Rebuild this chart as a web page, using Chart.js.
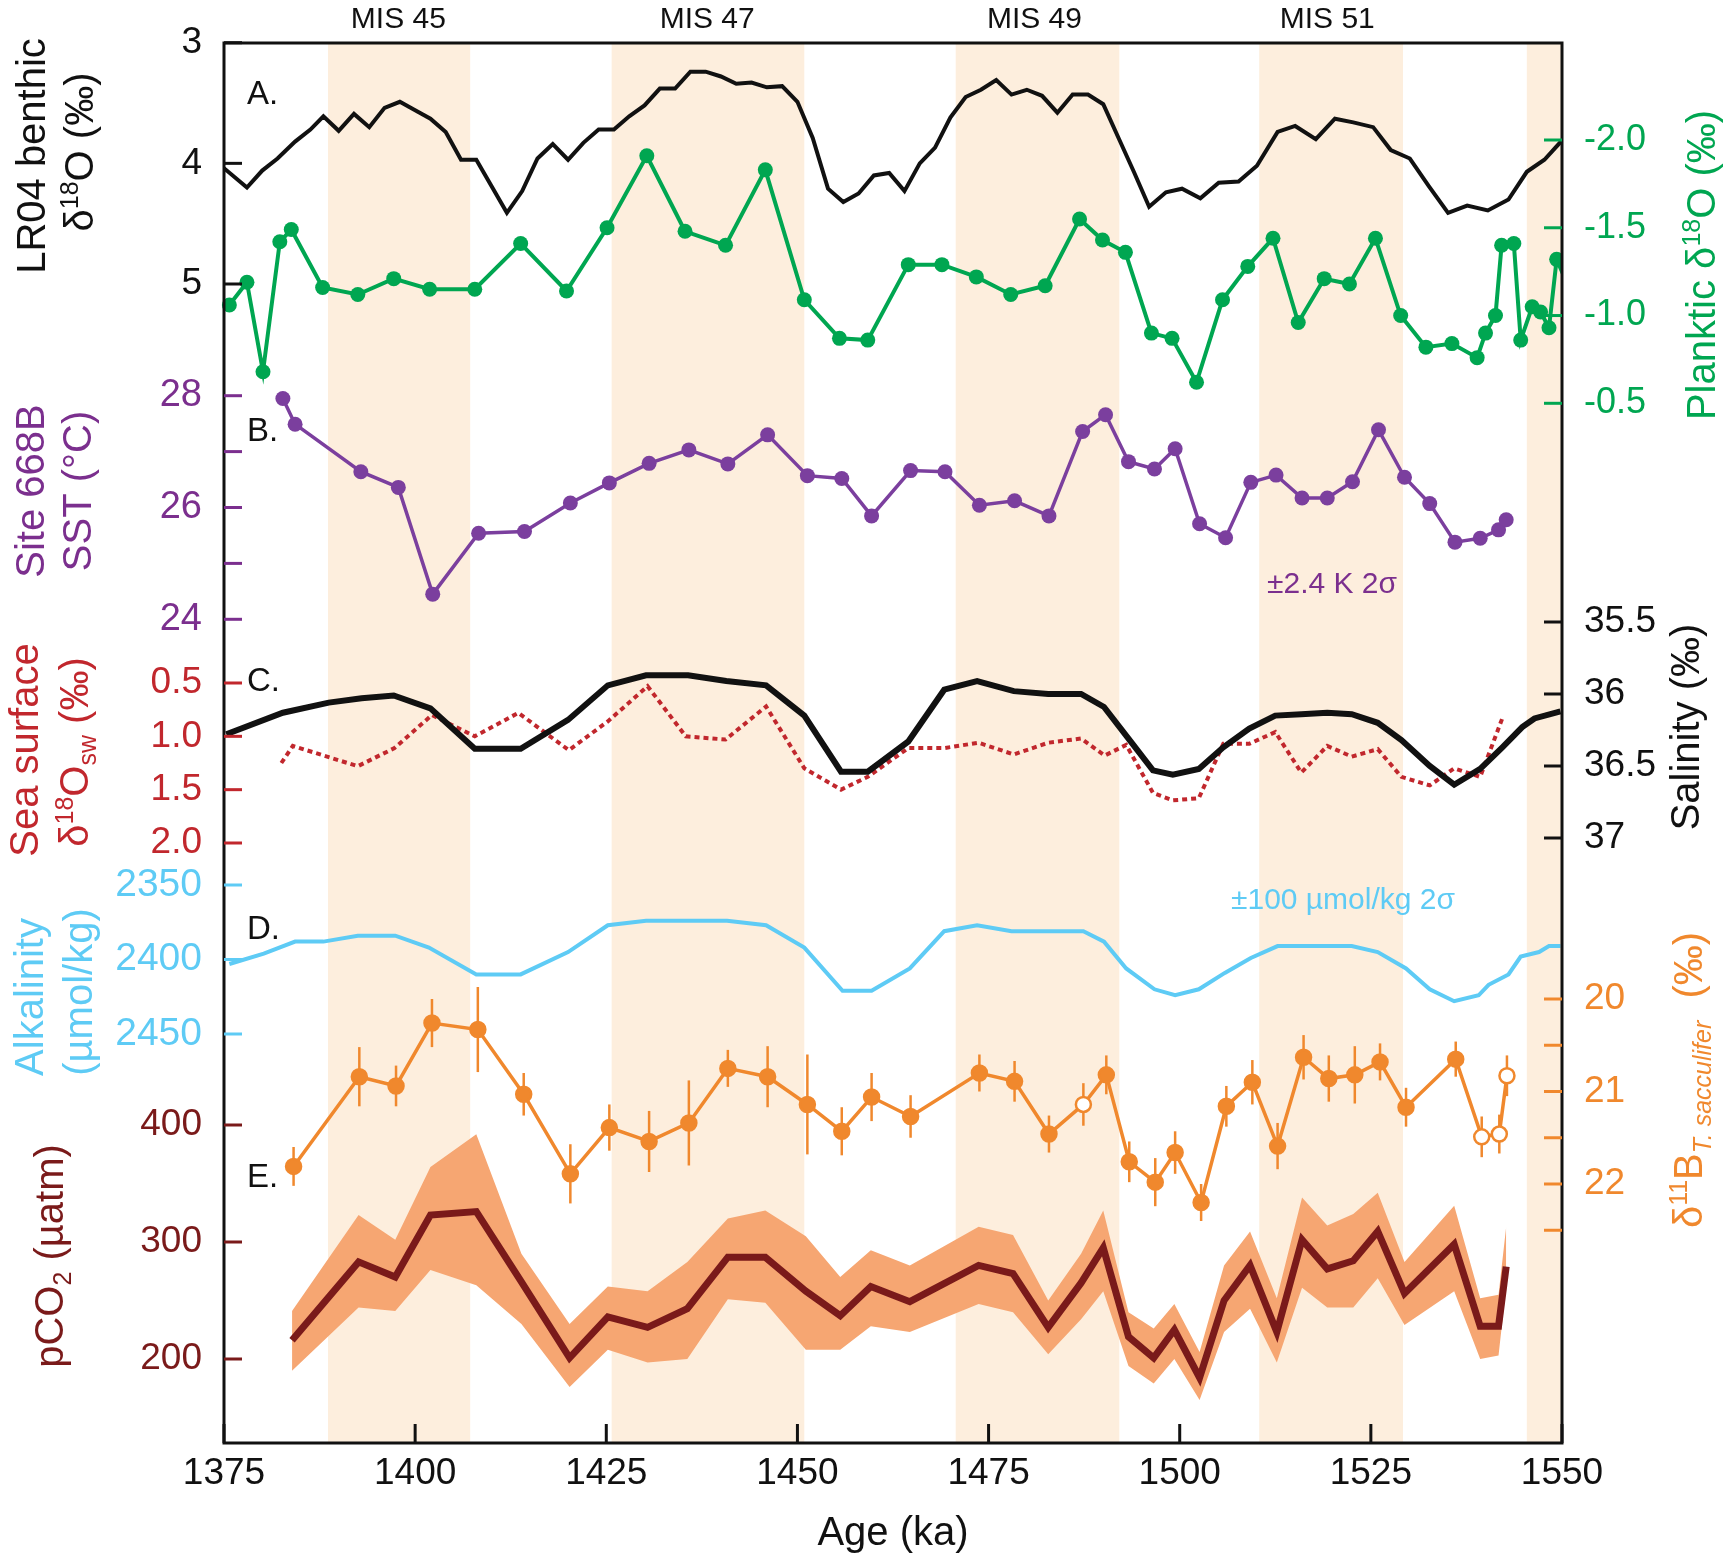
<!DOCTYPE html>
<html>
<head>
<meta charset="utf-8">
<script src="https://cdn.jsdelivr.net/npm/chart.js@4.4.1/dist/chart.umd.min.js"></script>
<style>
  html, body { margin: 0; padding: 0; background: #fff; }
  canvas { display: block; }
</style>
</head>
<body>
<canvas id="stackChart" width="1730" height="1565"></canvas>
<script>
// ---- data (ages in ka) ----
const ageTicks = [1375, 1400, 1425, 1450, 1475, 1500, 1525, 1550];
const misStart = [1388.6, 1425.7, 1470.7, 1510.4, 1545.4];
const misEnd = [1407.2, 1450.9, 1492.1, 1529.2, 1550];
const misNames = ['MIS 45', 'MIS 47', 'MIS 49', 'MIS 51'];
const misNameAge = [1397.8, 1438.2, 1481.0, 1519.3];

// A. LR04 benthic d18O
const lr04Age = [1375, 1378, 1380, 1382, 1384.3, 1386.3, 1388, 1390, 1392, 1394, 1396, 1398, 1400, 1402, 1404, 1406, 1408, 1410, 1412, 1414, 1416, 1418, 1420, 1422, 1424, 1426, 1428, 1430, 1432, 1434, 1436, 1438, 1440, 1442, 1444, 1446, 1448, 1450, 1452, 1454, 1456, 1458, 1460, 1462, 1464, 1466, 1468, 1470, 1472, 1474, 1476, 1478, 1480, 1482, 1484, 1486, 1488, 1490, 1492, 1494, 1496, 1498.2, 1500.3, 1502.7, 1505.1, 1507.7, 1510.1, 1512.8, 1515.1, 1517.8, 1520.3, 1522.7, 1525.3, 1527.6, 1530.1, 1532.6, 1535.1, 1537.6, 1540.3, 1543, 1545.4, 1547.7, 1550];
const lr04 = [4.04, 4.20, 4.06, 3.96, 3.82, 3.72, 3.61, 3.73, 3.59, 3.70, 3.54, 3.49, 3.56, 3.63, 3.74, 3.97, 3.97, 4.19, 4.41, 4.23, 3.96, 3.84, 3.97, 3.83, 3.72, 3.72, 3.61, 3.52, 3.38, 3.38, 3.24, 3.24, 3.28, 3.34, 3.33, 3.37, 3.36, 3.49, 3.79, 4.21, 4.32, 4.25, 4.10, 4.08, 4.23, 4.00, 3.87, 3.62, 3.45, 3.39, 3.31, 3.43, 3.39, 3.44, 3.58, 3.43, 3.43, 3.51, 3.79, 4.07, 4.36, 4.24, 4.21, 4.29, 4.16, 4.15, 4.02, 3.74, 3.69, 3.80, 3.63, 3.66, 3.70, 3.89, 3.96, 4.19, 4.41, 4.35, 4.39, 4.30, 4.07, 3.97, 3.81];

// A. planktic d18O
const planktAge = [1375.7, 1378.0, 1380.1, 1382.3, 1383.8, 1387.9, 1392.5, 1397.2, 1401.9, 1407.8, 1413.8, 1419.8, 1425.1, 1430.3, 1435.3, 1440.6, 1445.8, 1450.9, 1455.5, 1459.2, 1464.5, 1468.9, 1473.4, 1477.9, 1482.4, 1486.9, 1489.9, 1492.9, 1496.3, 1499.0, 1502.2, 1505.6, 1508.9, 1512.2, 1515.5, 1518.9, 1522.2, 1525.6, 1528.9, 1532.2, 1535.6, 1538.9, 1540.0, 1541.3, 1542.1, 1543.7, 1544.6, 1546.1, 1547.2, 1548.3, 1549.3, 1551.5];
const planktic = [-1.06, -1.19, -0.68, -1.42, -1.49, -1.16, -1.12, -1.21, -1.15, -1.15, -1.41, -1.14, -1.50, -1.91, -1.48, -1.40, -1.83, -1.09, -0.87, -0.86, -1.29, -1.29, -1.22, -1.12, -1.17, -1.55, -1.43, -1.36, -0.90, -0.87, -0.62, -1.09, -1.28, -1.44, -0.96, -1.21, -1.18, -1.44, -1.00, -0.82, -0.84, -0.76, -0.90, -1.00, -1.40, -1.41, -0.86, -1.05, -1.02, -0.93, -1.32, -1.10];

// B. Site 668B SST
const sstAge = [1382.7, 1384.3, 1392.9, 1397.8, 1402.3, 1408.3, 1414.3, 1420.3, 1425.4, 1430.6, 1435.8, 1440.9, 1446.1, 1451.3, 1455.8, 1459.7, 1464.8, 1469.3, 1473.8, 1478.4, 1482.9, 1487.3, 1490.3, 1493.3, 1496.7, 1499.4, 1502.6, 1506.0, 1509.3, 1512.6, 1516.0, 1519.3, 1522.6, 1526.0, 1529.4, 1532.7, 1536.0, 1539.3, 1541.7, 1542.7];
const sst = [27.95, 27.49, 26.64, 26.36, 24.45, 25.54, 25.57, 26.08, 26.44, 26.79, 27.03, 26.78, 27.30, 26.57, 26.52, 25.85, 26.66, 26.64, 26.04, 26.12, 25.85, 27.36, 27.66, 26.82, 26.69, 27.05, 25.71, 25.46, 26.45, 26.58, 26.17, 26.17, 26.46, 27.39, 26.54, 26.07, 25.38, 25.45, 25.60, 25.78];

// C. salinity (black) and sea surface d18Osw (red dotted)
const salAge = [1375.3, 1382.7, 1388.7, 1393.0, 1397.2, 1402.0, 1407.8, 1413.8, 1420.0, 1425.2, 1430.2, 1435.7, 1440.7, 1445.9, 1450.9, 1455.7, 1459.2, 1464.5, 1469.2, 1473.5, 1478.3, 1482.8, 1487.1, 1490.1, 1493.3, 1496.5, 1499.1, 1502.5, 1505.7, 1509.1, 1512.5, 1515.9, 1519.3, 1522.5, 1525.9, 1529.0, 1532.7, 1535.9, 1539.3, 1542.2, 1544.8, 1546.4, 1549.8];
const salinity = [36.28, 36.13, 36.06, 36.03, 36.01, 36.10, 36.38, 36.38, 36.18, 35.94, 35.87, 35.87, 35.91, 35.94, 36.15, 36.54, 36.54, 36.33, 35.97, 35.91, 35.98, 36.00, 36.00, 36.09, 36.31, 36.53, 36.56, 36.52, 36.37, 36.24, 36.15, 36.14, 36.13, 36.14, 36.20, 36.32, 36.50, 36.63, 36.52, 36.37, 36.23, 36.17, 36.12];
const swAge = [1382.5, 1384.0, 1392.5, 1397.3, 1402.2, 1407.8, 1413.5, 1420.1, 1425.2, 1430.4, 1435.4, 1440.6, 1445.9, 1450.9, 1455.7, 1459.2, 1464.5, 1469.2, 1473.7, 1478.3, 1482.8, 1487.1, 1490.2, 1493.0, 1496.5, 1499.1, 1502.5, 1505.7, 1509.1, 1512.5, 1515.9, 1519.3, 1522.5, 1525.9, 1529.0, 1532.7, 1535.9, 1539.3, 1542.2];
const d18Osw = [1.25, 1.09, 1.28, 1.11, 0.80, 1.00, 0.78, 1.13, 0.86, 0.53, 1.00, 1.03, 0.72, 1.30, 1.50, 1.38, 1.11, 1.11, 1.06, 1.17, 1.06, 1.02, 1.18, 1.08, 1.53, 1.60, 1.58, 1.07, 1.07, 0.96, 1.34, 1.09, 1.19, 1.12, 1.38, 1.46, 1.30, 1.38, 0.83];

// D. alkalinity
const alkAge = [1375.7, 1380.2, 1384.3, 1388.0, 1392.5, 1397.4, 1401.8, 1408.0, 1413.8, 1420.0, 1425.2, 1430.2, 1435.7, 1440.8, 1445.9, 1450.9, 1455.9, 1459.7, 1464.7, 1469.2, 1473.5, 1478.0, 1482.5, 1487.4, 1490.1, 1493.0, 1496.7, 1499.4, 1502.5, 1505.9, 1509.3, 1512.8, 1516.0, 1519.3, 1522.5, 1525.9, 1529.6, 1532.7, 1535.9, 1539.1, 1540.4, 1543.0, 1544.6, 1547.0, 1548.3, 1549.8];
const alkalinity = [2403, 2396, 2388, 2388, 2384, 2384, 2392, 2410, 2410, 2395, 2377, 2374, 2374, 2374, 2377, 2392, 2421, 2421, 2406, 2381, 2377, 2381, 2381, 2381, 2388, 2406, 2420, 2424, 2420, 2409, 2399, 2391, 2391, 2391, 2391, 2395, 2406, 2420, 2428, 2424, 2417, 2410, 2398, 2395, 2391, 2391];

// E. d11B (T. sacculifer) with 2 sigma errors; open = open symbol
const boronAge = [1384.1, 1392.7, 1397.5, 1402.2, 1408.2, 1414.2, 1420.3, 1425.4, 1430.6, 1435.8, 1440.9, 1446.1, 1451.3, 1455.8, 1459.7, 1464.8, 1473.8, 1478.4, 1482.9, 1487.4, 1490.4, 1493.4, 1496.8, 1499.4, 1502.8, 1506.1, 1509.5, 1512.8, 1516.2, 1519.5, 1522.9, 1526.2, 1529.6, 1536.1, 1539.5, 1541.8, 1542.8];
const d11b = [21.81, 20.84, 20.94, 20.26, 20.33, 21.03, 21.89, 21.39, 21.54, 21.34, 20.75, 20.84, 21.14, 21.43, 21.06, 21.27, 20.80, 20.89, 21.46, 21.14, 20.82, 21.76, 21.98, 21.66, 22.20, 21.16, 20.90, 21.59, 20.63, 20.86, 20.82, 20.68, 21.17, 20.65, 21.49, 21.46, 20.83];
const d11bErr = [0.21, 0.32, 0.22, 0.26, 0.46, 0.23, 0.32, 0.25, 0.33, 0.46, 0.20, 0.33, 0.54, 0.26, 0.26, 0.23, 0.20, 0.22, 0.20, 0.23, 0.21, 0.22, 0.26, 0.23, 0.20, 0.22, 0.24, 0.25, 0.24, 0.25, 0.31, 0.20, 0.21, 0.19, 0.22, 0.21, 0.22];
const d11bOpen = [0, 0, 0, 0, 0, 0, 0, 0, 0, 0, 0, 0, 0, 0, 0, 0, 0, 0, 0, 1, 0, 0, 0, 0, 0, 0, 0, 0, 0, 0, 0, 0, 0, 0, 1, 1, 1];

// E. pCO2 with uncertainty envelope
const co2Age = [1383.9, 1392.6, 1397.4, 1402.0, 1408.0, 1413.9, 1420.2, 1425.2, 1430.4, 1435.6, 1440.9, 1445.8, 1451.1, 1455.6, 1459.6, 1464.7, 1473.7, 1478.2, 1482.8, 1487.1, 1490.0, 1493.3, 1496.6, 1499.3, 1502.6, 1505.8, 1509.2, 1512.7, 1516.0, 1519.3, 1522.7, 1525.9, 1529.4, 1535.9, 1539.3, 1541.7, 1542.7];
const co2 = [216, 283, 270, 323, 326, 266, 201, 236, 227, 243, 287, 287, 258, 237, 262, 249, 280, 273, 227, 265, 295, 219, 201, 225, 184, 250, 280, 223, 302, 277, 284, 309, 256, 298, 228, 228, 279];
const co2Hi = [241, 323, 302, 364, 392, 290, 230, 262, 258, 283, 320, 327, 305, 270, 293, 280, 313, 306, 250, 290, 327, 240, 226, 247, 206, 280, 309, 252, 338, 314, 324, 342, 283, 331, 252, 255, 313];
const co2Lo = [190, 244, 241, 276, 263, 230, 176, 208, 197, 200, 251, 248, 208, 208, 228, 223, 247, 240, 204, 234, 258, 194, 179, 200, 165, 223, 243, 197, 261, 244, 244, 269, 229, 258, 200, 203, 262];

// axis tick values
const lr04Ticks = [3, 4, 5];
const planktTicks = [-2.0, -1.5, -1.0, -0.5];
const sstTicks = [24, 25, 26, 27, 28];
const sstLabels = [24, 26, 28];
const swTicks = [0.5, 1.0, 1.5, 2.0];
const salTicks = [35.5, 36, 36.5, 37];
const alkTicks = [2350, 2400, 2450];
const d11bTicks = [20, 20.5, 21, 21.5, 22, 22.5];
const d11bLabels = [20, 21, 22];
const co2Ticks = [200, 300, 400];

// ---- styling / layout ----
const FONT = '"Liberation Sans", Arial, Helvetica, sans-serif';
const C = {
  black: '#111111', green: '#00a651', purple: '#7b3f9e', purpleText: '#7b2f8e',
  red: '#c1272d', blue: '#5ecbf5', orange: '#f0882d', maroon: '#7a1a1a',
  band: '#f6a672', mis: '#fdeedd'
};
const AREA = { left: 224, right: 1562, top: 43, bottom: 1443 };

// each y scale spans the whole plot height; anchor two values to pixel rows
function axisFrom(v1, p1, v2, p2) {
  const k = (v2 - v1) / (p2 - p1);
  const atTop = v1 + (AREA.top - p1) * k;
  const atBottom = v1 + (AREA.bottom - p1) * k;
  const base = { type: 'linear', display: false, grid: { display: false } };
  return atTop > atBottom
    ? { ...base, min: atBottom, max: atTop }
    : { ...base, min: atTop, max: atBottom, reverse: true };
}

const pts = (xs, ys) => xs.map((x, i) => ({ x, y: ys[i] }));
const f = (size, style) => `${style || ''} ${size}px ${FONT}`;

const axisMarks = [
  { id: 'yLR', side: 'left', ticks: lr04Ticks, labels: lr04Ticks, color: C.black, size: 37, fmt: String },
  { id: 'yPL', side: 'right', ticks: planktTicks, labels: planktTicks, color: C.green, size: 36, fmt: v => v.toFixed(1) },
  { id: 'ySST', side: 'left', ticks: sstTicks, labels: sstLabels, color: C.purpleText, size: 38, fmt: String },
  { id: 'ySW', side: 'left', ticks: swTicks, labels: swTicks, color: C.red, size: 37, fmt: v => v.toFixed(1) },
  { id: 'ySAL', side: 'right', ticks: salTicks, labels: salTicks, color: C.black, size: 37, fmt: String },
  { id: 'yALK', side: 'left', ticks: alkTicks, labels: alkTicks, color: C.blue, size: 39, fmt: String },
  { id: 'yB', side: 'right', ticks: d11bTicks, labels: d11bLabels, color: C.orange, size: 37, fmt: String },
  { id: 'yCO2', side: 'left', ticks: co2Ticks, labels: co2Ticks, color: C.maroon, size: 37, fmt: String }
];

const sup = t => ({ t, s: 25, dy: -15 });
const axisTitles = [
  { parts: [{ t: 'LR04 benthic' }], x: 30, y: 156, color: C.black },
  { parts: [{ t: 'δ' }, sup('18'), { t: 'O (‰)' }], x: 78, y: 152, color: C.black },
  { parts: [{ t: 'Site 668B' }], x: 29, y: 491, color: C.purpleText },
  { parts: [{ t: 'SST (°C)' }], x: 76, y: 491, color: C.purpleText },
  { parts: [{ t: 'Sea surface' }], x: 23, y: 750, color: C.red },
  { parts: [{ t: 'δ' }, sup('18'), { t: 'O' }, { t: 'sw', s: 25, dy: 8 }, { t: ' (‰)' }], x: 73, y: 752, color: C.red },
  { parts: [{ t: 'Alkalinity' }], x: 28, y: 997, color: C.blue },
  { parts: [{ t: '(µmol/kg)' }], x: 77, y: 992, color: C.blue },
  { parts: [{ t: 'pCO' }, { t: '2', s: 25, dy: 8 }, { t: ' (µatm)' }], x: 48, y: 1256, color: C.maroon },
  { parts: [{ t: 'Planktic δ' }, sup('18'), { t: 'O (‰)' }], x: 1700, y: 265, color: C.green },
  { parts: [{ t: 'Salinity (‰)' }], x: 1684, y: 727, color: C.black },
  { parts: [{ t: 'δ' }, sup('11'), { t: 'B' }, { t: 'T. sacculifer', s: 25, dy: 9, it: true }, { t: '  (‰)' }], x: 1687, y: 1080, color: C.orange }
];
const panelLetters = [['A.', 95], ['B.', 432], ['C.', 682], ['D.', 930], ['E.', 1178]];
const notes = [
  { t: '±2.4 K 2σ', x: 1332, y: 585, color: C.purpleText },
  { t: '±100 µmol/kg 2σ', x: 1343, y: 901, color: C.blue }
];

function drawRich(ctx, parts, x, y, color, rotate) {
  ctx.save();
  ctx.translate(x, y);
  if (rotate) ctx.rotate(-Math.PI / 2);
  ctx.fillStyle = color;
  ctx.textBaseline = 'alphabetic';
  ctx.textAlign = 'left';
  let w = 0;
  parts.forEach(p => {
    ctx.font = f(p.s || 40, p.it ? 'italic' : '');
    p.w = ctx.measureText(p.t).width;
    w += p.w;
  });
  let cx = -w / 2;
  parts.forEach(p => {
    ctx.font = f(p.s || 40, p.it ? 'italic' : '');
    ctx.fillText(p.t, cx, 14.5 + (p.dy || 0));
    cx += p.w;
  });
  ctx.restore();
}

const BORON_INDEX = 6;

const decorations = {
  id: 'decorations',
  beforeDatasetsDraw(chart) {
    const { ctx, chartArea: a, scales: { x } } = chart;
    ctx.save();
    ctx.fillStyle = C.mis;
    misStart.forEach((s, i) => {
      const x0 = x.getPixelForValue(s);
      const x1 = x.getPixelForValue(misEnd[i]);
      ctx.fillRect(x0, a.top, x1 - x0, a.bottom - a.top);
    });
    ctx.restore();
  },
  beforeDatasetDraw(chart, args) {
    if (args.index !== BORON_INDEX) return;
    const { ctx, scales } = chart;
    ctx.save();
    ctx.strokeStyle = C.orange;
    ctx.lineWidth = 2.5;
    boronAge.forEach((age, i) => {
      const px = scales.x.getPixelForValue(age);
      ctx.beginPath();
      ctx.moveTo(px, scales.yB.getPixelForValue(d11b[i] - d11bErr[i]));
      ctx.lineTo(px, scales.yB.getPixelForValue(d11b[i] + d11bErr[i]));
      ctx.stroke();
    });
    ctx.restore();
  },
  afterDatasetsDraw(chart) {
    const { ctx, chartArea: a, scales } = chart;
    ctx.save();
    // frame
    ctx.strokeStyle = C.black;
    ctx.lineWidth = 3;
    ctx.strokeRect(a.left, a.top, a.right - a.left, a.bottom - a.top);
    // age ticks, pointing inward
    ageTicks.forEach(v => {
      const px = scales.x.getPixelForValue(v);
      ctx.beginPath();
      ctx.moveTo(px, a.bottom);
      ctx.lineTo(px, a.bottom - 19);
      ctx.stroke();
    });
    // y ticks and labels
    axisMarks.forEach(m => {
      const s = scales[m.id];
      const left = m.side === 'left';
      const x0 = left ? a.left : a.right;
      const x1 = left ? a.left + 18 : a.right - 18;
      ctx.strokeStyle = m.color;
      ctx.lineWidth = 3;
      m.ticks.forEach(v => {
        const py = s.getPixelForValue(v);
        ctx.beginPath();
        ctx.moveTo(x0, py);
        ctx.lineTo(x1, py);
        ctx.stroke();
      });
      ctx.fillStyle = m.color;
      ctx.font = f(m.size);
      ctx.textBaseline = 'middle';
      ctx.textAlign = left ? 'right' : 'left';
      m.labels.forEach(v => {
        ctx.fillText(m.fmt(v), left ? a.left - 22 : a.right + 22, s.getPixelForValue(v));
      });
    });
    ctx.restore();
  },
  afterDraw(chart) {
    const { ctx, chartArea: a, scales: { x } } = chart;
    axisTitles.forEach(t => drawRich(ctx, t.parts, t.x, t.y, t.color, true));
    ctx.save();
    ctx.textBaseline = 'middle';
    ctx.fillStyle = C.black;
    ctx.font = f(30);
    ctx.textAlign = 'center';
    misNames.forEach((n, i) => ctx.fillText(n, x.getPixelForValue(misNameAge[i]), 20));
    ctx.font = f(33);
    ctx.textAlign = 'left';
    panelLetters.forEach(([t, y]) => ctx.fillText(t, a.left + 23, y));
    ctx.font = f(30);
    ctx.textAlign = 'center';
    notes.forEach(n => { ctx.fillStyle = n.color; ctx.fillText(n.t, n.x, n.y); });
    ctx.restore();
  }
};

const lineStyle = { pointRadius: 0, tension: 0, fill: false };

new Chart(document.getElementById('stackChart'), {
  type: 'line',
  data: {
    datasets: [
      { ...lineStyle, label: 'LR04', data: pts(lr04Age, lr04), yAxisID: 'yLR', borderColor: C.black, borderWidth: 4 },
      { ...lineStyle, label: 'Planktic', data: pts(planktAge, planktic), yAxisID: 'yPL', borderColor: C.green, borderWidth: 4,
        pointRadius: 7.5, pointBackgroundColor: C.green, pointBorderWidth: 0, clip: { left: 10, top: 10, right: 0, bottom: 10 } },
      { ...lineStyle, label: 'SST', data: pts(sstAge, sst), yAxisID: 'ySST', borderColor: C.purple, borderWidth: 3.5,
        pointRadius: 7.5, pointBackgroundColor: C.purple, pointBorderWidth: 0 },
      { ...lineStyle, label: 'Salinity', data: pts(salAge, salinity), yAxisID: 'ySAL', borderColor: C.black, borderWidth: 6 },
      { ...lineStyle, label: 'd18Osw', data: pts(swAge, d18Osw), yAxisID: 'ySW', borderColor: C.red, borderWidth: 4, borderDash: [5, 4] },
      { ...lineStyle, label: 'Alkalinity', data: pts(alkAge, alkalinity), yAxisID: 'yALK', borderColor: C.blue, borderWidth: 4 },
      { ...lineStyle, label: 'd11B', data: pts(boronAge, d11b), yAxisID: 'yB', borderColor: C.orange, borderWidth: 3.5,
        pointRadius: 7.5, pointBorderColor: C.orange, pointBorderWidth: 2.5,
        pointBackgroundColor: boronAge.map((_, i) => d11bOpen[i] ? '#ffffff' : C.orange) },
      { ...lineStyle, label: 'pCO2', data: pts(co2Age, co2), yAxisID: 'yCO2', borderColor: C.maroon, borderWidth: 7 },
      { ...lineStyle, label: 'pCO2 high', data: pts(co2Age, co2Hi), yAxisID: 'yCO2', borderWidth: 0, borderColor: C.band,
        backgroundColor: C.band, fill: '+1' },
      { ...lineStyle, label: 'pCO2 low', data: pts(co2Age, co2Lo), yAxisID: 'yCO2', borderWidth: 0, borderColor: C.band }
    ]
  },
  options: {
    responsive: false,
    animation: false,
    devicePixelRatio: 1,
    layout: { padding: { left: AREA.left, right: 1730 - AREA.right, top: AREA.top, bottom: 0 } },
    plugins: { legend: { display: false }, tooltip: { enabled: false } },
    scales: {
      x: {
        type: 'linear', min: 1375, max: 1550,
        grid: { display: false, drawTicks: false },
        border: { display: false },
        ticks: { stepSize: 25, padding: 9, color: C.black, font: { family: FONT, size: 37 }, callback: v => String(v) },
        title: { display: true, text: 'Age (ka)', color: C.black, font: { family: FONT, size: 40 }, padding: { top: 0, bottom: 7 } },
        afterFit: s => { s.height = 1565 - AREA.bottom; }
      },
      yLR: axisFrom(3, 42.7, 5, 284),
      yPL: axisFrom(-2.0, 140, -0.5, 403.3),
      ySST: axisFrom(28, 395.7, 24, 619.3),
      ySW: axisFrom(0.5, 683, 2.0, 843),
      ySAL: axisFrom(35.5, 622, 37, 838),
      yALK: axisFrom(2350, 885, 2450, 1034),
      yB: axisFrom(20, 999, 22, 1184),
      yCO2: axisFrom(400, 1125, 200, 1359)
    }
  },
  plugins: [decorations]
});
</script>
</body>
</html>
